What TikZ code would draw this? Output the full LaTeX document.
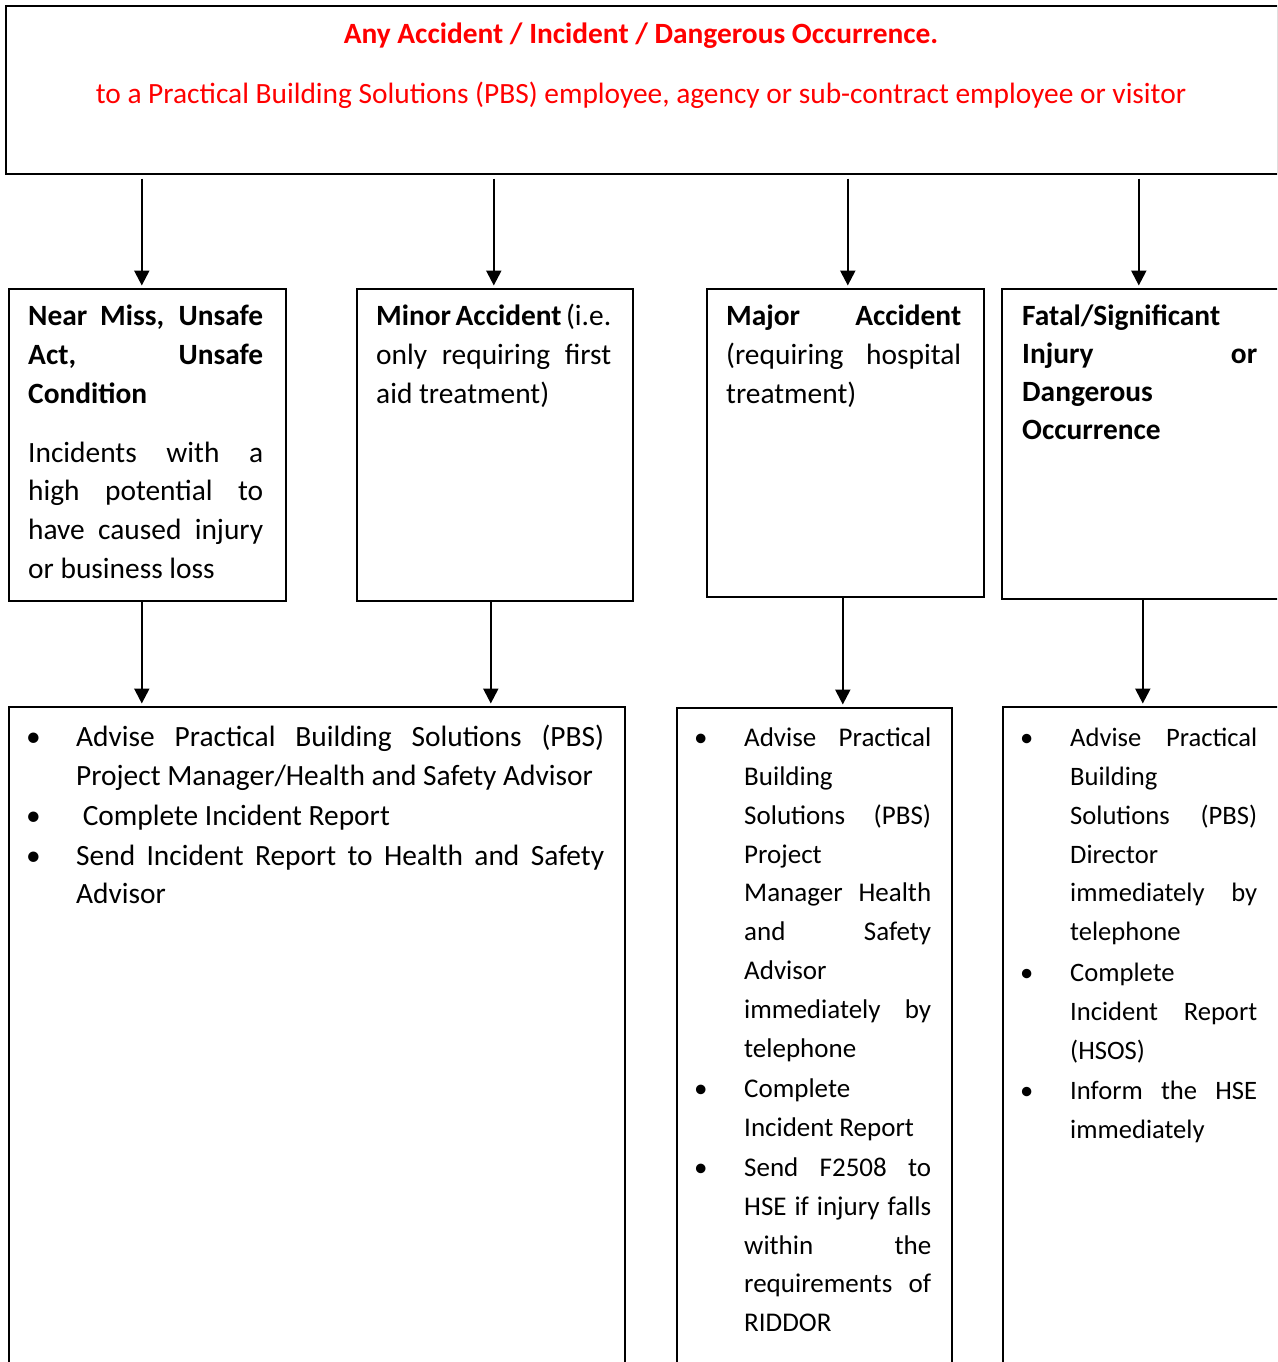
\documentclass[tikz,border=0pt]{standalone}
\usepackage{fontspec}
\setmainfont{Carlito}
\usetikzlibrary{arrows.meta}
\definecolor{alertred}{RGB}{255,0,0}
\hbadness=10000
\newcommand{\bodysize}{\fontsize{29.4pt}{38.8pt}\selectfont}
\newcommand{\bulletitem}{\hangindent=47pt\hangafter=1\noindent\makebox[47pt][l]{\hspace{-3pt}\textbullet}}
\newcommand{\nextitem}[1]{\par\vspace{#1}\bulletitem}
\tikzstyle{box}=[draw, line width=1.6pt, inner sep=0, anchor=north west]
\tikzstyle{boxtext}=[inner sep=0, anchor=base west, text width=235pt, align=justify, font=\bodysize]
\tikzstyle{heading}=[inner sep=0, anchor=base, text=alertred, font=\bodysize]
\tikzstyle{flow}=[line width=2.3pt, -{Triangle[length=15pt,width=15pt]}, shorten >=2.5pt]

\begin{document}
\begin{tikzpicture}[x=1pt, y=-1pt]
  \path[use as bounding box, clip] (0,0) rectangle (1277,1362);

  \node[box, minimum width=1272pt, minimum height=168pt] (event) at (5,5) {};
  \node[heading, font=\bodysize\bfseries] (eventhead) at (641,43.3) {Any Accident / Incident / Dangerous Occurrence.};
  \node[heading] (eventsub) at (641,104) {to a Practical Building Solutions (PBS) employee, agency or sub-contract employee or visitor};

  \node[box, minimum width=277pt, minimum height=312pt] (nearmiss) at (8,288) {};
  \node[box, minimum width=276pt, minimum height=312pt] (minor) at (356,288) {};
  \node[box, minimum width=277pt, minimum height=308pt] (major) at (706,288) {};
  \node[box, minimum width=289pt, minimum height=310pt] (fatal) at (1001,288) {};

  \node[boxtext] (nearmiss-txt) at (28,325.7) {%
    {\bfseries Near Miss, Unsafe\linebreak Act, Unsafe\linebreak Condition}\par\vspace{20pt}
    Incidents with a\linebreak high potential to\linebreak have caused injury\linebreak or business loss\par};
  \node[boxtext] (minor-txt) at (376,325.7) {%
    {\bfseries Minor Accident} (i.e.\linebreak only requiring first\linebreak aid treatment)\par};
  \node[boxtext] (major-txt) at (726,325.7) {%
    {\bfseries Major Accident}\linebreak (requiring hospital\linebreak treatment)\par};
  \node[boxtext, font=\fontsize{29.4pt}{38pt}\selectfont] (fatal-txt) at (1022,325) {%
    {\bfseries Fatal/Significant\newline Injury or\linebreak Dangerous\newline Occurrence}\par};

  \node[box, minimum width=616pt, minimum height=700pt] (routine) at (8,706) {};
  \node[box, minimum width=275pt, minimum height=700pt] (majoract) at (676,707) {};
  \node[box, minimum width=290pt, minimum height=700pt] (fatalact) at (1002,706) {};

  \node[boxtext, text width=575pt] (routine-txt) at (29,746.7) {%
    \bulletitem Advise Practical Building Solutions (PBS)\linebreak Project Manager/Health and Safety Advisor
    \nextitem{1pt}\ Complete Incident Report
    \nextitem{1pt}Send Incident Report to Health and Safety\linebreak Advisor\par};
  \node[boxtext, text width=234pt, font=\fontsize{27pt}{38.8pt}\selectfont] (majoract-txt) at (697,746.7) {%
    \bulletitem Advise Practical\linebreak Building\newline Solutions (PBS)\linebreak Project\newline Manager Health\linebreak and Safety\linebreak Advisor\newline immediately by\linebreak telephone
    \nextitem{1.5pt}Complete\newline Incident Report
    \nextitem{1.5pt}Send F2508 to\linebreak HSE if injury falls\linebreak within the\linebreak requirements of\linebreak RIDDOR\par};
  \node[boxtext, text width=234pt, font=\fontsize{26.6pt}{38.8pt}\selectfont] (fatalact-txt) at (1023,746.7) {%
    \bulletitem Advise Practical\linebreak Building\newline Solutions (PBS)\linebreak Director\newline immediately by\linebreak telephone
    \nextitem{2pt}Complete\newline Incident Report\linebreak (HSOS)
    \nextitem{2pt}Inform the HSE\linebreak immediately\par};

  \draw[flow, shorten <=4pt] ([xshift=-5.5pt]nearmiss.north |- event.south) -- ([xshift=-5.5pt]nearmiss.north);
  \draw[flow, shorten <=4pt] ([xshift=-1pt]minor.north |- event.south) -- ([xshift=-1pt]minor.north);
  \draw[flow, shorten <=4pt] ([xshift=2.5pt]major.north |- event.south) -- ([xshift=2.5pt]major.north);
  \draw[flow, shorten <=4pt] ([xshift=-7.5pt]fatal.north |- event.south) -- ([xshift=-7.5pt]fatal.north);

  \draw[flow] ([xshift=-5.5pt]nearmiss.south) -- ([xshift=-5.5pt]nearmiss.south |- routine.north);
  \draw[flow] ([xshift=-4pt]minor.south) -- ([xshift=-4pt]minor.south |- routine.north);
  \draw[flow] ([xshift=-2.5pt]major.south) -- ([xshift=-2.5pt]major.south |- majoract.north);
  \draw[flow] ([xshift=-3.5pt]fatal.south) -- ([xshift=-3.5pt]fatal.south |- fatalact.north);
\end{tikzpicture}
\end{document}
